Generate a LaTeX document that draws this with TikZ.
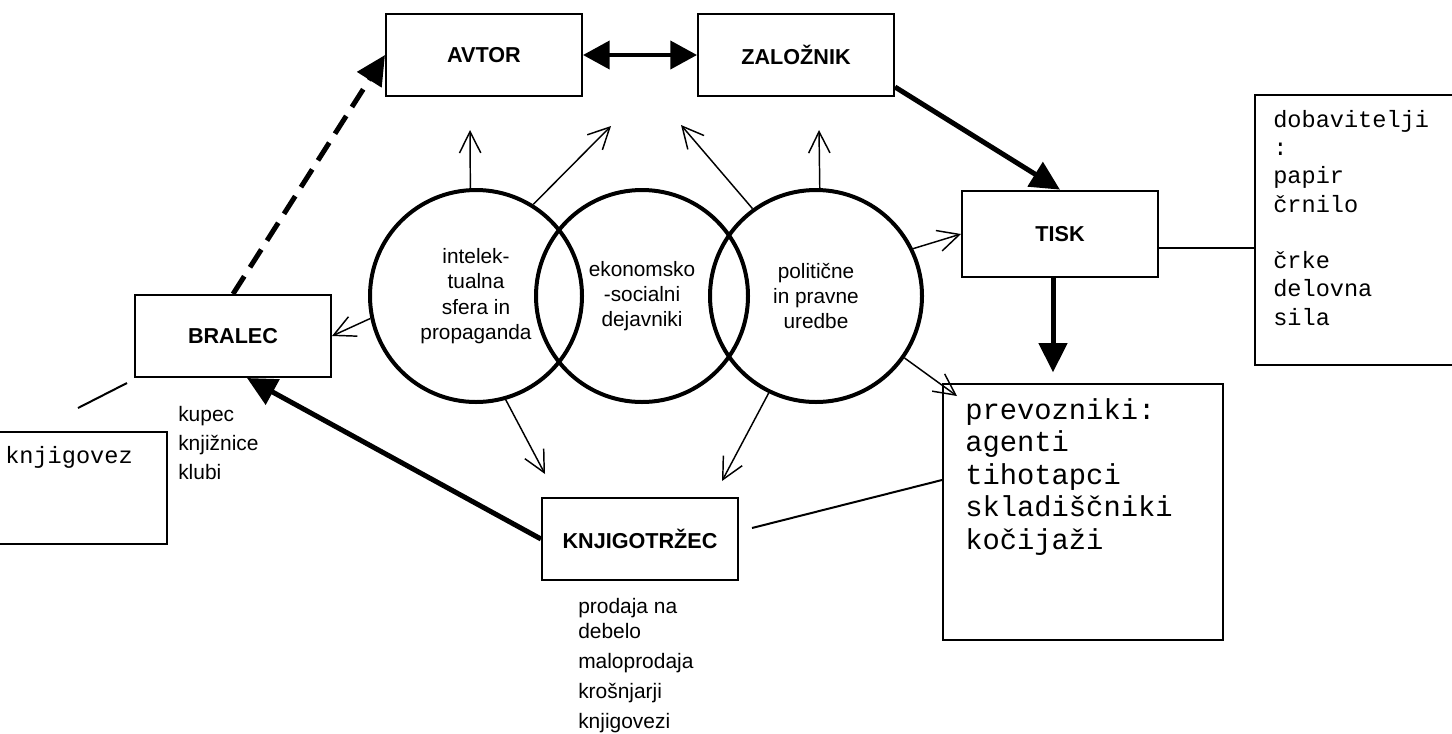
\documentclass[tikz,border=0pt]{standalone}
\usepackage{fontspec}
\setmainfont{Liberation Sans}
\setmonofont{Liberation Mono}
\usetikzlibrary{arrows.meta,calc}

\tikzset{
  actor/.style={draw, line width=1.5pt, minimum width=147pt, minimum height=61.5pt, inner sep=0pt, font=\bfseries\fontsize{16.2}{18}\selectfont},
  sphere/.style={circle, draw, line width=3pt, minimum size=159pt, inner sep=0pt, align=center, font=\fontsize{15.6}{19}\selectfont},
  frame/.style={draw, line width=1.5pt, inner sep=0pt},
  notes/.style={anchor=north west, inner sep=0pt, align=left, font=\fontsize{15.7}{21.75}\selectfont},
  mono/.style={anchor=north west, inner sep=0pt, align=left, font=\ttfamily\fontsize{17.7}{21.2}\selectfont},
  infl/.style={line width=1.1pt, -{Straight Barb[length=16pt,width=16pt]}},
  flow/.style={line width=3.75pt, -{Triangle[length=22pt,width=21pt]}},
  twoway/.style={line width=3pt, {Triangle[length=20pt,width=21pt]}-{Triangle[length=20pt,width=21pt]}},
}

\begin{document}
\begin{tikzpicture}[x=0.75pt,y=0.75pt,yscale=-1,xscale=1]
\useasboundingbox (0,0) rectangle (1452,733);
% main agents
\node[actor] (avtor) at (484,55) {AVTOR};
\node[actor] (zaloznik) at (796,55) {ZALOŽNIK};
\node[actor, minimum height=65pt] (tisk) at (1060,234) {TISK};
\node[actor] (bralec) at (233,336) {BRALEC};
\node[actor] (knjig) at (640,539) {KNJIGOTRŽEC};
% the three spheres
\node[sphere] (intel) at (476,296) {intelek-\\tualna\\sfera in\\propaganda};
\node[sphere] (ekon) at (642,296) {ekonomsko\\-socialni\\dejavniki};
\node[sphere] (polit) at (816,296) {politične\\in pravne\\uredbe};
% side boxes
\node[frame, minimum width=150pt, minimum height=203pt] (dobav) at (1355,230) {};
\node[mono] (dobavtext) at (1273,110) {dobavitelji\\:\\papir\\črnilo\\[21.2pt]črke\\delovna\\sila};
\node[frame, minimum width=210pt, minimum height=192pt] (prevoz) at (1083,512) {};
\node[mono, font=\ttfamily\fontsize{21.6}{24.4}\selectfont] (prevoztext) at (965,398) {prevozniki:\\agenti\\tihotapci\\skladiščniki\\kočijaži};
\node[frame, minimum width=128pt, minimum height=84pt] (kgvz) at (82,488) {};
\node[mono] (kgvztext) at (5,446) {knjigovez};
% lists
\node[notes] (kupci) at (178,406) {kupec\\knjižnice\\klubi};
\node[notes, font=\fontsize{15.7}{18.75}\selectfont] (prodaja) at (578,598) {prodaja na\\debelo\\[3.75pt]maloprodaja\\[3.75pt]krošnjarji\\[3.75pt]knjigovezi};
% free ends
\coordinate (t1) at (470,130);
\coordinate (t2) at (611,126);
\coordinate (t3) at (681,125);
\coordinate (t4) at (819,130);
\coordinate (t5) at (545,474);
\coordinate (t6) at (722,481);
\coordinate (t7) at (957,396);
\coordinate (b1) at (127,383);
\coordinate (b2) at (78,408);
% influences
\draw[infl] (intel.93) -- (t1);
\draw[infl] (intel.58) -- (t2);
\draw[infl] (polit.126) -- (t3);
\draw[infl] (polit.88) -- (t4);
\draw[infl] (intel.-168) -- (bralec.east);
\draw[infl] (intel.-74) -- (t5);
\draw[infl] (polit.-116) -- (t6);
\draw[infl] (polit.26) -- (tisk.west);
\draw[infl] (polit.-35) -- (t7);
% flows
\draw[twoway] (avtor) -- (zaloznik);
\draw[flow] ($(zaloznik.south east)+(0,-10)$) -- (tisk.north);
\draw[flow, shorten >=8pt] ($(tisk.south)+(-7,0)$) -- ($(tisk.south |- prevoz.north)+(-7,0)$);
\draw[flow] (knjig.west) -- ($(bralec.south)+(14,0)$);
\draw[flow, dash pattern=on 15.75pt off 8pt] (bralec.north) -- (avtor.west);
% plain links
\draw[line width=1.5pt] ($(tisk.east)+(0,14)$) -- ($(tisk.east -| dobav.west)+(0,14)$);
\draw[line width=1.5pt] ($(knjig.east)+(13,-11)$) -- ($(prevoz.west)+(0,-32)$);
\draw[line width=1.5pt] (b1) -- (b2);
\end{tikzpicture}
\end{document}
